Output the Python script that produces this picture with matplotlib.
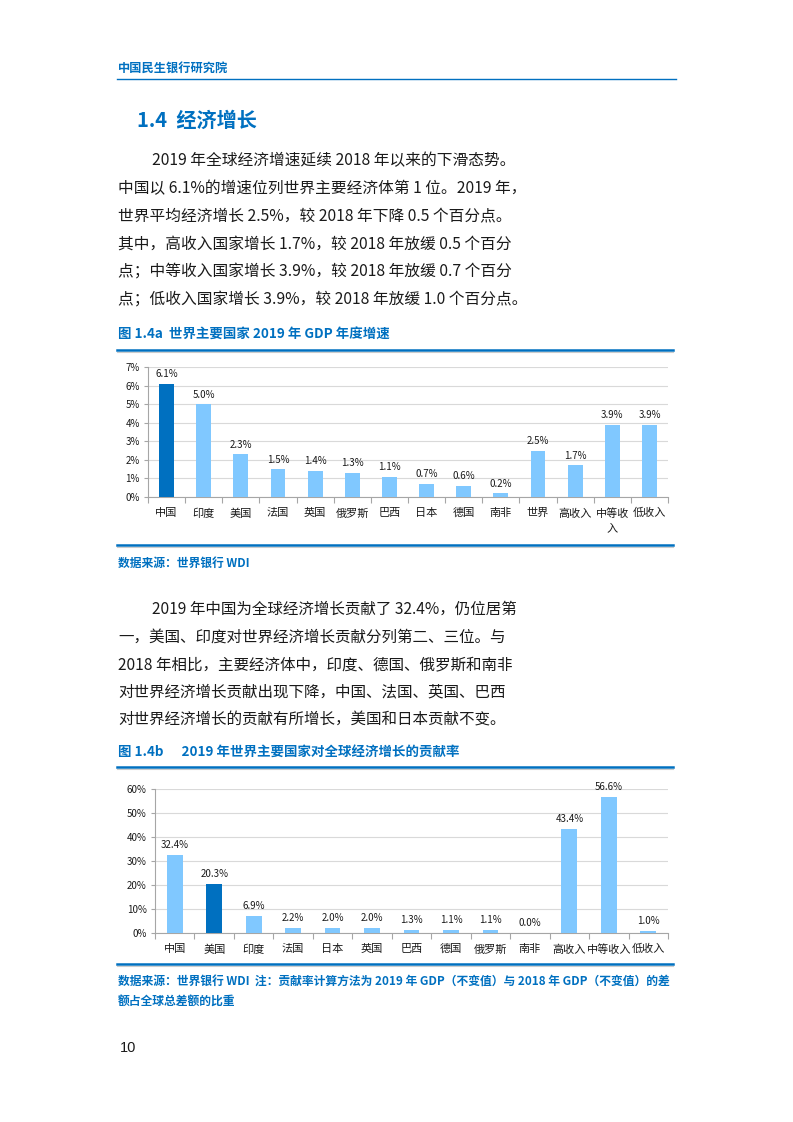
import matplotlib
matplotlib.use('Agg')
import matplotlib.pyplot as plt
from matplotlib.lines import Line2D
import numpy as np

plt.rcParams['font.family'] = ['Noto Sans CJK SC', 'DejaVu Sans']

W, H = 793, 1122
BLUE = '#0070C0'
LIGHT = '#80C8FF'
TEXT = '#1a1a1a'

# chart 1 data: GDP growth 2019
cats_a = ['中国', '印度', '美国', '法国', '英国', '俄罗斯', '巴西', '日本', '德国', '南非',
          '世界', '高收入', '中等收\n入', '低收入']
vals_a = [6.1, 5.0, 2.3, 1.5, 1.4, 1.3, 1.1, 0.7, 0.6, 0.2, 2.5, 1.7, 3.9, 3.9]
dark_a = '中国'

# chart 2 data: contribution to world growth
cats_b = ['中国', '美国', '印度', '法国', '日本', '英国', '巴西', '德国', '俄罗斯', '南非',
          '高收入', '中等收入', '低收入']
vals_b = [32.4, 20.3, 6.9, 2.2, 2.0, 2.0, 1.3, 1.1, 1.1, 0.0, 43.4, 56.6, 1.0]
dark_b = '美国'

para1 = ['2019 年全球经济增速延续 2018 年以来的下滑态势。',
         '中国以 6.1%的增速位列世界主要经济体第 1 位。2019 年，',
         '世界平均经济增长 2.5%，较 2018 年下降 0.5 个百分点。',
         '其中，高收入国家增长 1.7%，较 2018 年放缓 0.5 个百分',
         '点；中等收入国家增长 3.9%，较 2018 年放缓 0.7 个百分',
         '点；低收入国家增长 3.9%，较 2018 年放缓 1.0 个百分点。']
para2 = ['2019 年中国为全球经济增长贡献了 32.4%，仍位居第',
         '一，美国、印度对世界经济增长贡献分列第二、三位。与',
         '2018 年相比，主要经济体中，印度、德国、俄罗斯和南非',
         '对世界经济增长贡献出现下降，中国、法国、英国、巴西',
         '对世界经济增长的贡献有所增长，美国和日本贡献不变。']

fig = plt.figure(figsize=(W / 100, H / 100), dpi=100)


def fx(x):
    return x / W


def fy(y):
    return 1 - y / H


def txt(x, y, s, **kw):
    fig.text(fx(x), fy(y), s, va='center', ha=kw.pop('ha', 'left'), **kw)


def hline(x0, x1, y, lw=1.0, color=BLUE):
    fig.add_artist(Line2D([fx(x0), fx(x1)], [fy(y), fy(y)], lw=lw, color=color,
                          transform=fig.transFigure))


# header
txt(118, 68, '中国民生银行研究院', fontsize=8.8, color=BLUE, fontweight='bold')
hline(117, 676, 79, lw=1.0)

# section title
txt(137, 120, '1.4  经济增长', fontsize=14.5, color=BLUE, fontweight='bold')

# paragraph 1
for i, line in enumerate(para1):
    x = 152 if i == 0 else 118
    txt(x, 161 + i * 27.8, line, fontsize=11.3, color=TEXT)

# caption 1
txt(118, 335, '图 1.4a  世界主要国家 2019 年 GDP 年度增速', fontsize=9.7, color=BLUE, fontweight='bold')
hline(117, 673, 349.5, lw=1.8)
hline(117, 673, 351.5, lw=0.8, color='#cccccc')


def bar_chart(rect, cats, vals, dark, ymax, step, fs_tick, fs_cat, fs_val):
    ax = fig.add_axes(rect)
    x = np.arange(len(cats))
    colors = [BLUE if c == dark else LIGHT for c in cats]
    ax.bar(x, vals, width=0.4, color=colors, zorder=3)
    for xi, v in zip(x, vals):
        ax.text(xi, v + ymax * 0.035, '{:.1f}%'.format(v), ha='center', va='bottom',
                fontsize=fs_val, color=TEXT)
    ax.set_xlim(-0.5, len(cats) - 0.5)
    ax.set_ylim(0, ymax)
    yt = np.arange(0, ymax + step / 2, step)
    ax.set_yticks(yt)
    ax.set_yticklabels(['{:.0f}%'.format(t) for t in yt], fontsize=fs_tick, color=TEXT)
    ax.yaxis.grid(True, color='#d9d9d9', lw=0.8, zorder=0)
    ax.set_xticks(x)
    ax.set_xticklabels(cats, fontsize=fs_cat, color=TEXT, linespacing=1.6, va='top')
    ax.set_xticks(np.arange(-0.5, len(cats)), minor=True)
    ax.tick_params(axis='x', which='major', length=0, pad=8)
    ax.tick_params(axis='x', which='minor', length=4, color='#a6a6a6', width=0.8)
    ax.tick_params(axis='y', length=3, color='#a6a6a6', width=0.8, pad=3)
    for s in ['top', 'right']:
        ax.spines[s].set_visible(False)
    for s in ['left', 'bottom']:
        ax.spines[s].set_color('#a6a6a6')
        ax.spines[s].set_linewidth(0.8)
    return ax


bar_chart([fx(148), fy(497), (668 - 148) / W, (497 - 367) / H],
          cats_a, vals_a, dark_a, 7, 1, 7, 8, 7)

hline(117, 673, 545, lw=1.8)
hline(117, 673, 547, lw=0.8, color='#cccccc')
txt(118, 563, '数据来源：世界银行 WDI', fontsize=8.5, color=BLUE, fontweight='bold')

# paragraph 2
for i, line in enumerate(para2):
    x = 152 if i == 0 else 118
    txt(x, 609 + i * 27.8, line, fontsize=11.2, color=TEXT)

# caption 2
txt(118, 752, '图 1.4b      2019 年世界主要国家对全球经济增长的贡献率', fontsize=9.7, color=BLUE, fontweight='bold')
hline(117, 673, 767, lw=1.8)
hline(117, 673, 769, lw=0.8, color='#cccccc')

bar_chart([fx(155), fy(933), (668 - 155) / W, (933 - 789) / H],
          cats_b, vals_b, dark_b, 60, 10, 7, 8, 7)

hline(117, 673, 964, lw=1.8)
hline(117, 673, 966, lw=0.8, color='#cccccc')
txt(118, 981, '数据来源：世界银行 WDI  注：贡献率计算方法为 2019 年 GDP（不变值）与 2018 年 GDP（不变值）的差',
    fontsize=8.5, color=BLUE, fontweight='bold')
txt(118, 1001, '额占全球总差额的比重', fontsize=8.5, color=BLUE, fontweight='bold')

# page number
txt(120, 1048, '10', fontsize=10.5, color=TEXT, family=['Liberation Sans', 'DejaVu Sans'])

fig.savefig('out.png', dpi=100)
